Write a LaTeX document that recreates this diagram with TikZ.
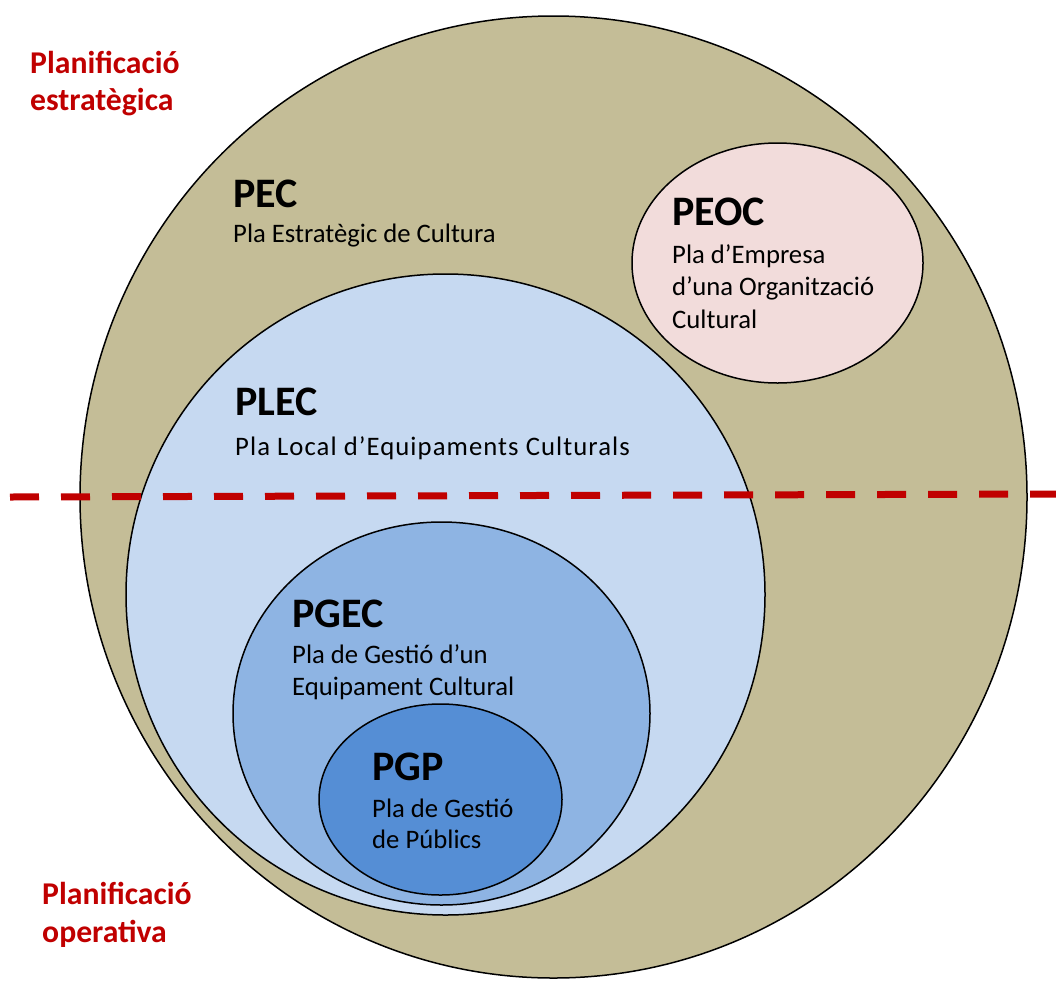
\documentclass[tikz,border=0pt]{standalone}
\usepackage{fontspec}
\setmainfont{Carlito}
\newfontfamily\spacedfont[LetterSpace=4]{Carlito}
\usetikzlibrary{shapes.geometric}
\definecolor{cPEC}{HTML}{C4BD97}
\definecolor{cPLEC}{HTML}{C6D9F1}
\definecolor{cPGEC}{HTML}{8EB4E3}
\definecolor{cPGP}{HTML}{558ED5}
\definecolor{cPEOC}{HTML}{F2DCDB}
\definecolor{cRed}{HTML}{C00000}
\begin{document}
\begin{tikzpicture}[x=1pt,y=-1pt,
  ring/.style={ellipse, draw=black, line width=1.5pt, inner sep=0pt},
  head/.style={anchor=base west, inner sep=0pt, font=\fontsize{42}{50}\selectfont\bfseries},
  desc/.style={anchor=base west, inner sep=0pt, font=\fontsize{26.7}{32}\selectfont},
  zone/.style={anchor=base west, inner sep=0pt, text=cRed, font=\fontsize{31.7}{38}\selectfont\bfseries},
  divider/.style={draw=cRed, line width=7pt, dash pattern=on 29pt off 22pt}]
\useasboundingbox (0,0) rectangle (1056,980);
% rings
\node[ring, fill=cPEC, minimum width=947pt, minimum height=962pt] (pec) at (553.5,497) {};
\node[ring, fill=cPEOC, minimum width=291pt, minimum height=240pt] (peoc) at (777.5,263) {};
\node[ring, fill=cPLEC, minimum width=639pt, minimum height=641pt] (plec) at (445.5,594.5) {};
\node[ring, fill=cPGEC, minimum width=417pt, minimum height=383pt] (pgec) at (441.5,713.5) {};
\node[ring, fill=cPGP, minimum width=243pt, minimum height=191pt] (pgp) at (440.5,799.5) {};
% divider
\coordinate (dl) at (10,497);
\coordinate (dr) at (1056,494);
\draw[divider] (dl) -- (dr);
% zone labels
\node[zone] (z1a) at (30,73) {Planificació};
\node[zone] (z1b) at (30,110) {estratègica};
\node[zone] (z2a) at (42,904) {Planificació};
\node[zone] (z2b) at (42,942) {operativa};
% PEC
\node[head] (tpec) at (233,207) {PEC};
\node[desc] (dpec) at (233,242) {Pla Estratègic de Cultura};
% PEOC
\node[head] (tpeoc) at (672,225) {PEOC};
\node[desc] (dpeoc1) at (672,263) {Pla d’Empresa};
\node[desc] (dpeoc2) at (672,295.5) {d’una Organització};
\node[desc] (dpeoc3) at (672,328) {Cultural};
% PLEC
\node[head] (tplec) at (235,415) {PLEC};
\node[desc, font=\fontsize{26.7}{32}\spacedfont] (dplec) at (235,455) {Pla Local d’Equipaments Culturals};
% PGEC
\node[head] (tpgec) at (292,627) {PGEC};
\node[desc] (dpgec1) at (292,663) {Pla de Gestió d’un};
\node[desc] (dpgec2) at (292,695) {Equipament Cultural};
% PGP
\node[head] (tpgp) at (372,780) {PGP};
\node[desc] (dpgp1) at (372,817) {Pla de Gestió};
\node[desc] (dpgp2) at (372,848) {de Públics};
\end{tikzpicture}
\end{document}
